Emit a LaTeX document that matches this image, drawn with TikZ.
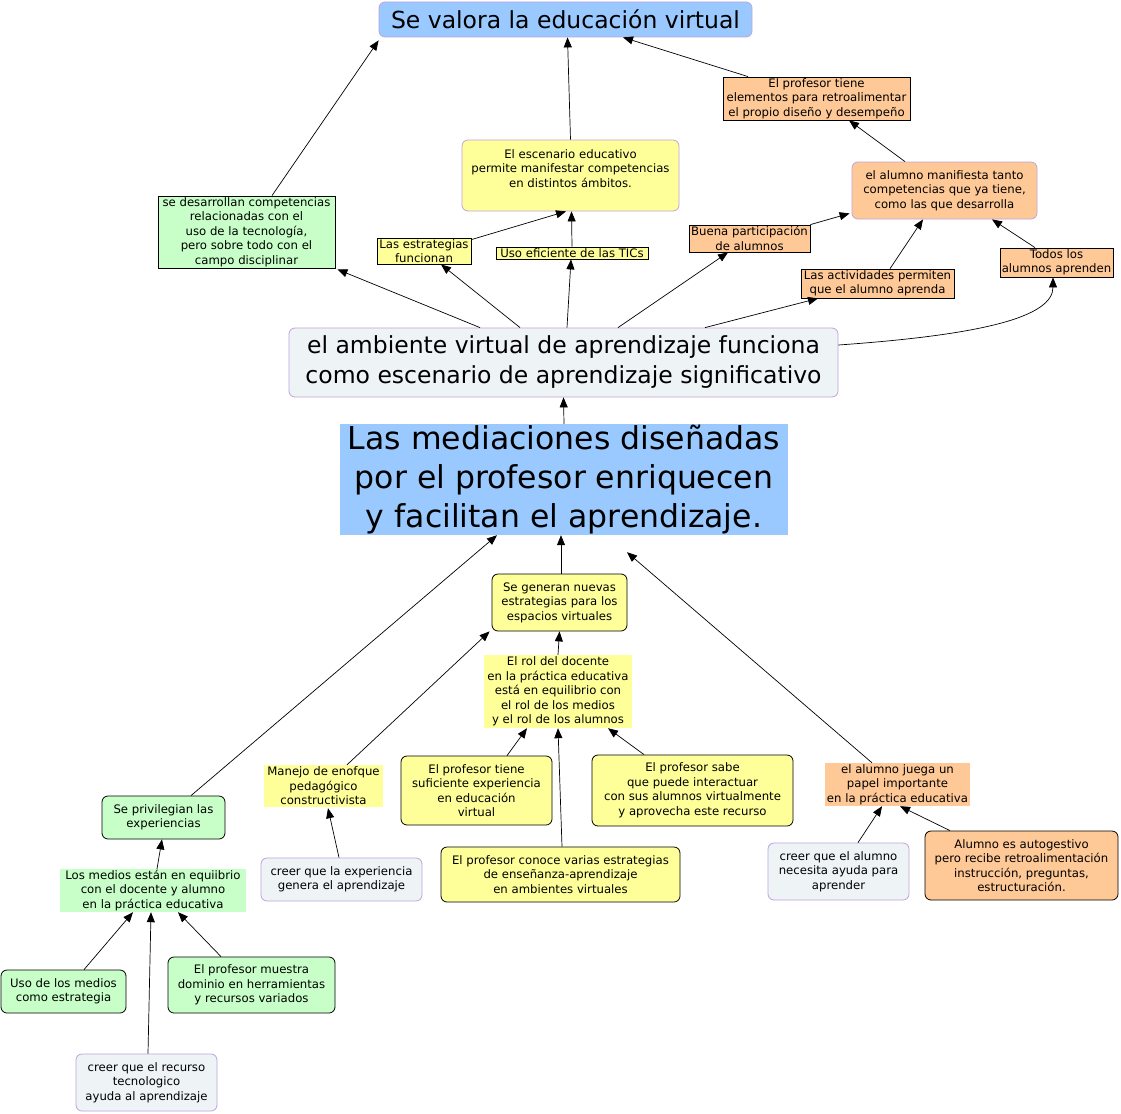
\documentclass[tikz,border=0pt]{standalone}
\usepackage{fontspec}
\setmainfont{DejaVu Sans}
\usetikzlibrary{arrows.meta}
\definecolor{cblue}{HTML}{99C9FF}
\definecolor{cyel}{HTML}{FFFF99}
\definecolor{corg}{HTML}{FFC997}
\definecolor{cgrn}{HTML}{C8FFC8}
\definecolor{cgry}{HTML}{EEF3F6}
\definecolor{clav}{HTML}{BFA3DD}
\tikzset{
  sz/.style 2 args={minimum width=#1pt, minimum height=#2pt},
  base/.style={align=center, inner sep=0pt, text=black, font=\fontsize{11.7}{14.5}\selectfont},
  sqbox/.style={base, draw=black, line width=0.8pt, rectangle},
  rbox/.style={base, draw=black, line width=0.8pt, rounded corners=6pt},
  lbox/.style={base, draw=clav, line width=0.8pt, rounded corners=6pt},
  plain/.style={base},
  arr/.style={-{Triangle[length=10pt,width=8pt]}, line width=0.7pt, black},
}
\begin{document}
\begin{tikzpicture}[x=1pt,y=-1pt]
\fill[white] (0,0) rectangle (1121,1113);
\useasboundingbox (0,0) rectangle (1121,1113);

\node[lbox, fill=cblue, sz={373}{35}, font=\fontsize{23.5}{30}\selectfont] (n1) at (565.5,19.5) {Se valora la educación virtual};
\node[sqbox, fill=corg, sz={187}{43}] (n2) at (816.5,98.5) {El profesor tiene\\elementos para retroalimentar\\ el propio diseño y desempeño};
\node[lbox, fill=cyel, sz={217}{71}] (n3) at (570.5,175.5) {El escenario educativo\\permite manifestar competencias\\en distintos ámbitos.\\~};
\node[lbox, fill=corg, sz={185}{57}] (n4) at (944.5,190.5) {el alumno manifiesta tanto\\competencias que ya tiene,\\ como las que desarrolla};
\node[sqbox, fill=cgrn, sz={177}{72}] (n5) at (246.5,232) {se desarrollan competencias\\relacionadas con el\\uso de la tecnología,\\pero sobre todo con el\\ campo disciplinar};
\node[sqbox, fill=cyel, sz={94}{26}] (n6) at (424,251) {Las estrategias\\funcionan};
\node[sqbox, fill=cyel, sz={152}{12}] (n7) at (572,253) {Uso eficiente de las TICs};
\node[sqbox, fill=corg, sz={121}{27}] (n8) at (749.5,238.5) {Buena participación\\de alumnos};
\node[sqbox, fill=corg, sz={153}{29}] (n9) at (877.5,283.5) {Las actividades permiten\\que el alumno aprenda};
\node[sqbox, fill=corg, sz={113}{29}] (n10) at (1056.5,262.5) {Todos los\\alumnos aprenden};
\node[lbox, fill=cgry, sz={549}{69}, font=\fontsize{23.5}{30}\selectfont] (n11) at (563.5,362.5) {el ambiente virtual de aprendizaje funciona\\ como escenario de aprendizaje significativo};
\node[plain, fill=cblue, sz={448}{111}, font=\fontsize{31.5}{39}\selectfont] (n12) at (564,479.5) {Las mediaciones diseñadas\\por el profesor enriquecen\\ y facilitan el aprendizaje.};
\node[rbox, fill=cyel, sz={135}{57}] (n13) at (559.5,602.5) {Se generan nuevas\\estrategias para los\\ espacios virtuales};
\node[plain, fill=cyel, sz={148}{73}] (n14) at (558,691.5) {El rol del docente\\en la práctica educativa\\está en equilibrio con\\el rol de los medios\\y el rol de los alumnos};
\node[plain, fill=cyel, sz={119}{42}] (n15) at (323.5,786) {Manejo de enofque\\pedagógico\\constructivista};
\node[rbox, fill=cyel, sz={151}{69}] (n16) at (476.5,790.5) {El profesor tiene\\suficiente experiencia\\en educación\\virtual};
\node[rbox, fill=cyel, sz={201}{71}] (n17) at (692.5,790.5) {El profesor sabe\\que puede interactuar\\con sus alumnos virtualmente\\y aprovecha este recurso};
\node[plain, fill=corg, sz={145}{43}] (n18) at (897.5,784.5) {el alumno juega un\\papel importante\\en la práctica educativa};
\node[rbox, fill=cgrn, sz={123}{43}] (n19) at (163.5,817.5) {Se privilegian las\\experiencias};
\node[plain, fill=cgrn, sz={186}{43}] (n20) at (153,890.5) {Los medios están en equiibrio\\ con el docente y alumno\\en la práctica educativa};
\node[lbox, fill=cgry, sz={161}{43}] (n21) at (341.5,879.5) {creer que la experiencia\\ genera el aprendizaje};
\node[rbox, fill=cyel, sz={239}{55}] (n22) at (560.5,874.5) {El profesor conoce varias estrategias\\de enseñanza-aprendizaje\\en ambientes virtuales};
\node[lbox, fill=cgry, sz={141}{57}] (n23) at (838.5,871.5) {creer que el alumno\\necesita ayuda para\\aprender};
\node[rbox, fill=corg, sz={193}{69}] (n24) at (1021.5,865.5) {Alumno es autogestivo\\pero recibe retroalimentación\\instrucción, preguntas,\\estructuración.};
\node[rbox, fill=cgrn, sz={125}{43}] (n25) at (63.5,991.5) {Uso de los medios\\como estrategia};
\node[rbox, fill=cgrn, sz={167}{56}] (n26) at (251.5,985) {El profesor muestra\\dominio en herramientas\\y recursos variados};
\node[lbox, fill=cgry, sz={141}{57}] (n27) at (146.5,1082.5) {creer que el recurso\\tecnologico\\ayuda al aprendizaje};

% connectors
\draw[arr] ([xshift=25.5pt]n5.north) -- ([yshift=-3pt]n1.south west);
\draw[arr] (n3.north) -- ([xshift=2pt]n1.south);
\draw[arr] ([xshift=-68.5pt]n2.north) -- ([xshift=57.5pt]n1.south);
\draw[arr] ([xshift=-39.5pt]n4.north) -- ([xshift=32.5pt]n2.south);
\draw[arr] ([xshift=-83.5pt]n11.north) -- ([xshift=2pt,yshift=-1pt]n5.south east);
\draw[arr] ([xshift=-43.5pt]n11.north) -- ([xshift=17pt]n6.south);
\draw[arr] ([xshift=3.5pt]n11.north) -- ([xshift=-1pt]n7.south);
\draw[arr] ([yshift=-2pt]n6.north east) -- ([xshift=-4.5pt]n3.south);
\draw[arr] (n7.north) -- ([xshift=1pt]n3.south);
\draw[arr] ([xshift=54.5pt]n11.north) -- ([xshift=-21.5pt]n8.south);
\draw[arr] (n8.north east) -- ([xshift=-2pt,yshift=6pt]n4.south west);
\draw[arr] ([xshift=141.5pt]n11.north) -- ([xshift=-59.5pt]n9.south);
\draw[arr] ([xshift=12.5pt]n9.north) -- ([xshift=-21.5pt]n4.south);
\draw[arr] ([xshift=-21.5pt]n10.north) -- ([xshift=47.5pt]n4.south);
\draw[arr] ([yshift=17.5pt]n11.east) .. controls ([xshift=142pt,yshift=27.5pt]n11.east) and ([xshift=-3.5pt,yshift=-40pt]n10.south) .. ([xshift=-3.5pt]n10.south);
\draw[arr] (n12.north) -- (n11.south);
\draw[arr] ([xshift=1.5pt]n13.north) -- ([xshift=-3pt]n12.south);
\draw[arr] ([xshift=27.5pt]n19.north) -- ([xshift=-67pt]n12.south);
\draw[arr] ([xshift=-25.5pt]n18.north) -- ([xshift=63pt,yshift=-17pt]n12.south);
\draw[arr] (n14.north) -- (n13.south);
\draw[arr] ([xshift=23.5pt]n15.north) -- ([xshift=-2pt]n13.south west);
\draw[arr] ([xshift=30.5pt]n16.north) -- ([xshift=-31pt]n14.south);
\draw[arr] ([xshift=1.5pt]n22.north) -- (n14.south);
\draw[arr] ([xshift=-48.5pt]n17.north) -- ([xshift=50pt]n14.south);
\draw[arr] ([xshift=-2.5pt]n21.north) -- ([xshift=4.5pt,yshift=-1pt]n15.south);
\draw[arr] ([xshift=4pt]n20.north) -- ([xshift=-1.5pt]n19.south);
\draw[arr] ([xshift=20.5pt]n25.north) -- ([xshift=-20pt]n20.south);
\draw[arr] ([xshift=1.5pt]n27.north) -- ([xshift=-2pt]n20.south);
\draw[arr] ([xshift=-30.5pt]n26.north) -- ([xshift=25pt]n20.south);
\draw[arr] ([xshift=19.5pt]n23.north) -- ([xshift=-15.5pt]n18.south);
\draw[arr] ([xshift=-71.5pt]n24.north) -- ([xshift=2.5pt]n18.south);
\end{tikzpicture}
\end{document}
